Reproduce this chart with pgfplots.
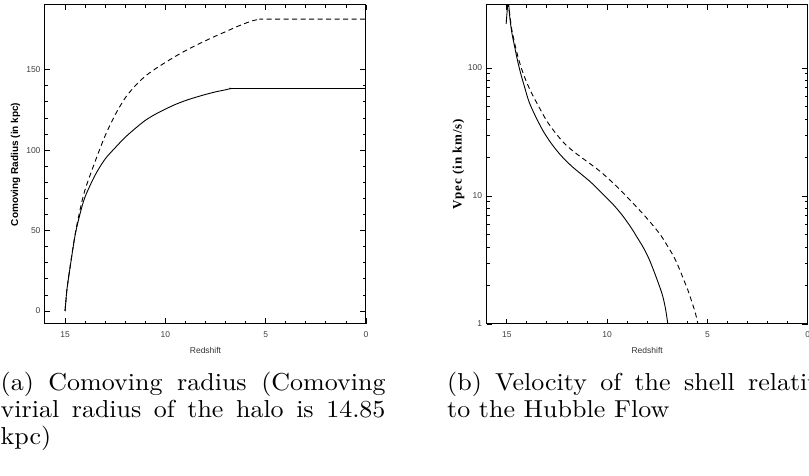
\documentclass[border=0pt]{standalone}
\usepackage{pgfplots}
\pgfplotsset{compat=1.18}
\usepackage{fontspec}
\newfontfamily\arialfont{Liberation Sans}
\newfontfamily\vlabfont[LetterSpace=7]{Liberation Serif}
\pgfplotsset{myax/.style={
  width=321pt, height=319.3pt, scale only axis,
  x dir=reverse, xmin=0, xmax=16,
  xtick={0,5,10,15}, minor x tick num=4,
  tick align=inside, major tick length=5.5pt, minor tick length=3pt,
  axis line style={line width=1pt},
  every tick/.style={black, line width=0.8pt},
  tick label style={font=\arialfont\fontsize{8.5}{10}\selectfont, text=black!75},
  /pgf/number format/assume math mode=true,
  xlabel={Redshift},
  xlabel style={font=\arialfont\fontsize{8.5}{10}\selectfont, text=black!80, at={(axis description cs:0.5,-0.084)}, anchor=center},
  xticklabel style={yshift=-4pt},
  yticklabel style={xshift=-1pt},
  clip=true,
}}
\begin{document}
\begin{tikzpicture}[x=1pt,y=1pt]
\useasboundingbox (0,0) rectangle (809,476);
\clip (0,0) rectangle (809,476);
% left panel
\begin{axis}[myax, at={(45pt,152pt)}, anchor=south west,
  ymin=-8.08, ymax=190.4, ytick={0,50,100,150}, minor y tick num=4,
  ylabel={Comoving Radius (in kpc)},
  ylabel style={font=\arialfont\bfseries\fontsize{10}{11}\selectfont, at={(axis description cs:-0.092,0.5)}, anchor=center}]
\addplot[black, line width=0.9pt, smooth, tension=0.5] coordinates {
(15.0,0) (14.95,7.5) (14.9,14) (14.75,27) (14.5,47) (14.25,60.5) (14.0,71) (13.5,84.5) (13.0,94.5) (12.5,101.5) (12.0,108) (11.5,113.5) (11.0,118.5) (10.5,122.3) (10.0,125.5) (9.5,128.4) (9.0,130.8) (8.5,132.8) (8.0,134.6) (7.5,136.2) (7.0,137.5) (6.7,138.3) (6.3,138.3) (0,138.3)};
\addplot[black, line width=0.9pt, dash pattern=on 5pt off 3.5pt, smooth, tension=0.5] coordinates {
(15.0,0) (14.95,7.5) (14.9,14) (14.75,27.5) (14.5,47.5) (14.25,63) (14.0,75.5) (13.5,93) (13.0,109) (12.5,122) (12.0,132.5) (11.5,140) (11.0,146) (10.5,150.5) (10.0,154.5) (9.5,158.3) (9.0,161.8) (8.5,165) (8.0,168) (7.5,170.9) (7.0,173.6) (6.5,176.4) (6.0,178.9) (5.6,180.6) (5.25,181.4) (4.9,181.4) (0,181.4)};
\end{axis}
% right panel
\begin{axis}[myax, at={(486.7pt,152pt)}, anchor=south west,
  ymode=log, ymin=1, ymax=312.6, ytick={1,10,100}, yticklabels={1,10,100},
  ylabel={Vpec (in km/s)},
  ylabel style={font=\vlabfont\bfseries\fontsize{13}{14}\selectfont, at={(axis description cs:-0.088,0.5)}, anchor=center}]
\addplot[black, line width=0.9pt, smooth, tension=0.5] coordinates {
(15.03,221) (14.93,330) (14.85,250) (14.75,190) (14.6,145) (14.45,112) (14.3,90) (14.1,70) (13.9,55) (13.6,43) (13.2,32.5) (12.8,26) (12.33,21) (11.8,17.3) (11.33,15.0) (10.83,12.9) (10.33,10.8) (10.0,9.6) (9.67,8.5) (9.25,7.1) (8.83,5.75) (8.5,4.75) (8.17,3.9) (7.9,3.2) (7.67,2.6) (7.45,2.1) (7.25,1.7) (7.1,1.35) (6.97,1.0)};
\addplot[black, line width=0.9pt, dash pattern=on 5pt off 3.5pt, smooth, tension=0.5] coordinates {
(14.95,330) (14.85,262) (14.75,200) (14.6,155) (14.45,124) (14.3,103) (14.1,84) (13.85,68) (13.6,57) (13.33,47.5) (13.0,38.5) (12.6,31.5) (12.17,26.2) (11.75,22.8) (11.33,20.3) (10.83,17.8) (10.33,15.5) (9.83,13.2) (9.33,11.1) (8.83,9.2) (8.33,7.6) (7.83,6.2) (7.33,4.95) (7.0,4.1) (6.67,3.35) (6.42,2.75) (6.17,2.2) (5.95,1.8) (5.75,1.45) (5.6,1.22) (5.47,1.0)};
\end{axis}
% captions
\node[anchor=base west, inner sep=0pt] at (0.5,85) {\scalebox{2.6}[2.45]{\parbox[t]{148pt}{\fontsize{10}{10.82}\selectfont (a) Comoving radius (Comoving\linebreak virial radius of the halo is 14.85\linebreak kpc)}}};
\node[anchor=base west, inner sep=0pt] at (447,85) {\scalebox{2.6}[2.45]{\parbox[t]{148pt}{\fontsize{10}{10.82}\selectfont (b) Velocity of the shell relative\linebreak to the Hubble Flow}}};
\end{tikzpicture}
\end{document}
